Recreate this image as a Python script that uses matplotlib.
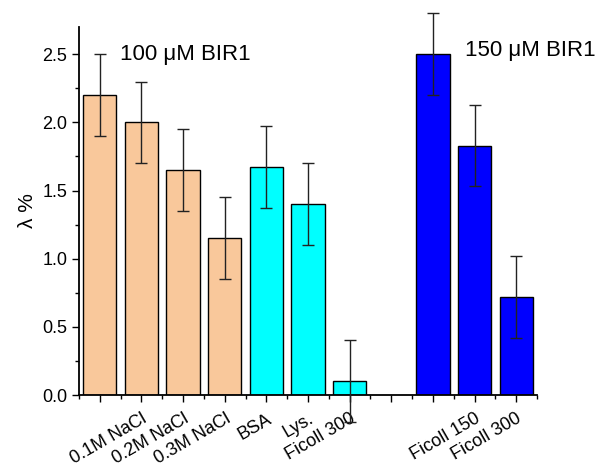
import numpy as np
import matplotlib
matplotlib.use("Agg")
import matplotlib.pyplot as plt
from matplotlib.ticker import MultipleLocator

plt.rcParams['font.family'] = ['Liberation Sans', 'DejaVu Sans']

# Data
positions = [1, 2, 3, 4, 5, 6, 7, 9, 10, 11]
values = [2.2, 2.0, 1.65, 1.15, 1.67, 1.4, 0.1, 2.5, 1.83, 0.72]
errors = [0.3, 0.3, 0.3, 0.3, 0.3, 0.3, 0.3, 0.3, 0.3, 0.3]
groups = ['salt', 'salt', 'salt', 'salt', 'crowder', 'crowder', 'crowder',
          'high', 'high', 'high']
tick_pos = [1, 2, 3, 4, 5, 6, 7, 8, 9, 10, 11]
tick_labels = ['', '0.1M NaCl', '0.2M NaCl', '0.3M NaCl', 'BSA', 'Lys.',
               'Ficoll 300', '', '', 'Ficoll 150', 'Ficoll 300']

colors = {'salt': '#F9C89B', 'crowder': '#00FFFF', 'high': '#0000FF'}

fig = plt.figure(figsize=(5.96, 4.72), dpi=100)
ax = fig.add_axes([0.1326, 0.1631, 0.7684, 0.7797])

bar_colors = [colors[g] for g in groups]
ax.bar(positions, values, width=0.8, color=bar_colors, edgecolor='black',
       linewidth=1.0, zorder=2)
ax.errorbar(positions, values, yerr=errors, fmt='none', ecolor='#222222',
            elinewidth=1.0, capsize=4, capthick=1.0, zorder=3, clip_on=False)

ax.set_xlim(0.5, 11.5)
ax.set_ylim(0, 2.7)

ax.set_xticks(tick_pos)
ax.set_xticklabels(tick_labels, rotation=30, ha='right', va='top',
                   rotation_mode='anchor', fontsize=13)
ax.xaxis.set_minor_locator(MultipleLocator(1.0, offset=0.5))
ax.yaxis.set_major_locator(MultipleLocator(0.5))
ax.yaxis.set_minor_locator(MultipleLocator(0.25))
ax.yaxis.set_major_formatter(matplotlib.ticker.FormatStrFormatter('%.1f'))

ax.tick_params(axis='both', which='major', direction='out', length=5,
               width=1.0, labelsize=13)
ax.tick_params(axis='x', which='major', length=5, pad=6)
ax.tick_params(axis='both', which='minor', direction='out', length=3,
               width=1.0)

for side in ['top', 'right']:
    ax.spines[side].set_visible(False)
for side in ['left', 'bottom']:
    ax.spines[side].set_linewidth(1.3)

ax.set_ylabel('λ %', fontsize=15)

ax.text(1.48, 2.5, '100 μM BIR1', fontsize=16, va='center', ha='left')
ax.text(9.77, 2.53, '150 μM BIR1', fontsize=16, va='center', ha='left',
        clip_on=False)

fig.savefig('out.png', dpi=100)
